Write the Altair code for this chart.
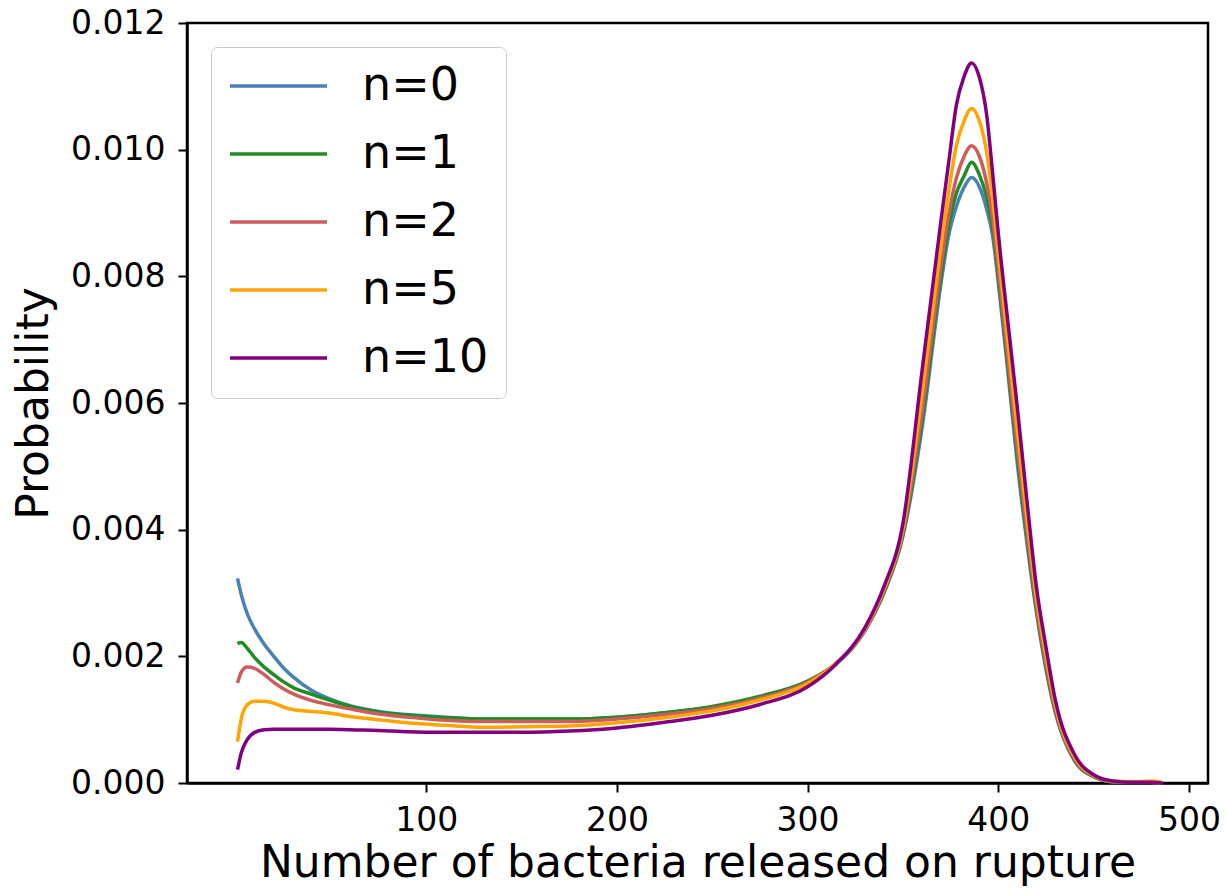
import altair as alt
import pandas as pd

# Number of bacteria released on rupture (x positions)
x_vals = [1, 3, 6, 10, 15, 20, 25, 30, 40, 50, 60, 75, 90, 110, 130, 150, 175, 200,
          225, 250, 275, 300, 315, 330, 340, 350, 360, 370, 374, 378, 382, 386, 390,
          394, 397, 400, 405, 410, 415, 420, 425, 430, 440, 450, 460, 470, 480, 486]

n0 = [0.00323, 0.00297, 0.00268, 0.00243, 0.00219, 0.00200, 0.00182, 0.00168, 0.00146,
      0.00132, 0.00122, 0.00113, 0.00108, 0.00104, 0.00101, 0.00101, 0.00101, 0.00104,
      0.00111, 0.00120, 0.00136, 0.00160, 0.00188, 0.00240, 0.00300, 0.00390, 0.00560,
      0.00790, 0.00865, 0.00910, 0.00940, 0.00956, 0.00942, 0.00905, 0.00865, 0.00791,
      0.00650, 0.00504, 0.00380, 0.00270, 0.00180, 0.00110, 0.00035, 0.00010, 0.00002,
      0.00001, 0.00001, 0.0]

n1 = [0.00220, 0.00222, 0.00213, 0.00198, 0.00183, 0.00171, 0.00160, 0.00151, 0.00140,
      0.00130, 0.00121, 0.00112, 0.00107, 0.00103, 0.00101, 0.00101, 0.00101, 0.00104,
      0.00111, 0.00121, 0.00137, 0.00161, 0.00189, 0.00241, 0.00301, 0.00393, 0.00572,
      0.00803, 0.00880, 0.00931, 0.00958, 0.00980, 0.00961, 0.00924, 0.00878, 0.00801,
      0.00660, 0.00516, 0.00389, 0.00275, 0.00184, 0.00113, 0.00036, 0.00010, 0.00002,
      0.00001, 0.00001, 0.0]

n2 = [0.00158, 0.00175, 0.00183, 0.00181, 0.00171, 0.00159, 0.00149, 0.00141, 0.00130,
      0.00123, 0.00117, 0.00109, 0.00104, 0.00099, 0.00097, 0.00097, 0.00097, 0.00101,
      0.00108, 0.00118, 0.00134, 0.00159, 0.00189, 0.00241, 0.00303, 0.00396, 0.00585,
      0.00818, 0.00897, 0.00955, 0.00989, 0.01006, 0.00990, 0.00946, 0.00893, 0.00813,
      0.00672, 0.00529, 0.00399, 0.00281, 0.00190, 0.00116, 0.00038, 0.00011, 0.00002,
      0.00001, 0.00001, 0.0]

n5 = [0.00065, 0.00102, 0.00123, 0.00129, 0.00129, 0.00126, 0.00120, 0.00116, 0.00113,
      0.00110, 0.00105, 0.00100, 0.00095, 0.00091, 0.00088, 0.00089, 0.00090, 0.00095,
      0.00103, 0.00114, 0.00131, 0.00157, 0.00189, 0.00243, 0.00306, 0.00402, 0.00614,
      0.00849, 0.00934, 0.01006, 0.01045, 0.01065, 0.01046, 0.00994, 0.00924, 0.00837,
      0.00698, 0.00557, 0.00420, 0.00294, 0.00201, 0.00122, 0.00041, 0.00012, 0.00003,
      0.00002, 0.00003, 0.00001]

n10 = [0.00021, 0.00048, 0.00068, 0.00080, 0.00084, 0.00085, 0.00085, 0.00085, 0.00085,
       0.00085, 0.00084, 0.00083, 0.00081, 0.00080, 0.00080, 0.00080, 0.00082, 0.00087,
       0.00096, 0.00107, 0.00124, 0.00152, 0.00188, 0.00245, 0.00310, 0.00410, 0.00650,
       0.00889, 0.00980, 0.01070, 0.01115, 0.01137, 0.01115, 0.01053, 0.00964, 0.00868,
       0.00729, 0.00593, 0.00447, 0.00310, 0.00215, 0.00130, 0.00045, 0.00013, 0.00003,
       0.00001, 0.00001, 0.0]

series_names = ["n=0", "n=1", "n=2", "n=5", "n=10"]
series_colors = ["#4682b4", "#228b22", "#cd5c5c", "#ffa500", "#800080"]
x_ticks = [100, 200, 300, 400, 500]
y_ticks = [0.0, 0.002, 0.004, 0.006, 0.008, 0.010, 0.012]

rows = []
for name, ys in zip(series_names, [n0, n1, n2, n5, n10]):
    for xv, yv in zip(x_vals, ys):
        rows.append({"x": xv, "y": yv, "series": name})
df = pd.DataFrame(rows)

FONT = "DejaVu Sans"

chart = alt.Chart(df).mark_line(strokeWidth=3.5, interpolate="monotone").encode(
    x=alt.X("x:Q",
            scale=alt.Scale(domain=[-25.5, 510], nice=False, zero=False),
            axis=alt.Axis(title="Number of bacteria released on rupture",
                          values=x_ticks, labelPadding=12, titlePadding=4)),
    y=alt.Y("y:Q",
            scale=alt.Scale(domain=[0, 0.012], nice=False),
            axis=alt.Axis(title="Probability", values=y_ticks, format=".3f",
                          labelPadding=13, titlePadding=14)),
    color=alt.Color("series:N",
                    scale=alt.Scale(domain=series_names, range=series_colors),
                    legend=alt.Legend(title=None, orient="none", legendX=24, legendY=24,
                                      symbolType="stroke", symbolSize=9409,
                                      symbolStrokeWidth=3.5, labelFontSize=46,
                                      labelFont=FONT, labelColor="black",
                                      padding=17, strokeColor="#cccccc",
                                      fillColor="white", cornerRadius=6,
                                      rowPadding=22, clipHeight=44, labelOffset=33)),
).properties(
    width=1021,
    height=760,
    autosize=alt.AutoSizeParams(type="none"),
    padding={"left": 179, "top": 15, "right": 11, "bottom": 103},
).configure_axis(
    labelFont=FONT, titleFont=FONT, labelFontSize=33, titleFontSize=44,
    titleFontWeight="normal", labelColor="black", titleColor="black",
    domainColor="black", tickColor="black", domainWidth=2.5, tickWidth=2,
    tickSize=9, grid=False,
).configure_view(stroke="black", strokeWidth=2.5)

chart.save("out.html", embed_options={"renderer": "svg", "actions": False})
